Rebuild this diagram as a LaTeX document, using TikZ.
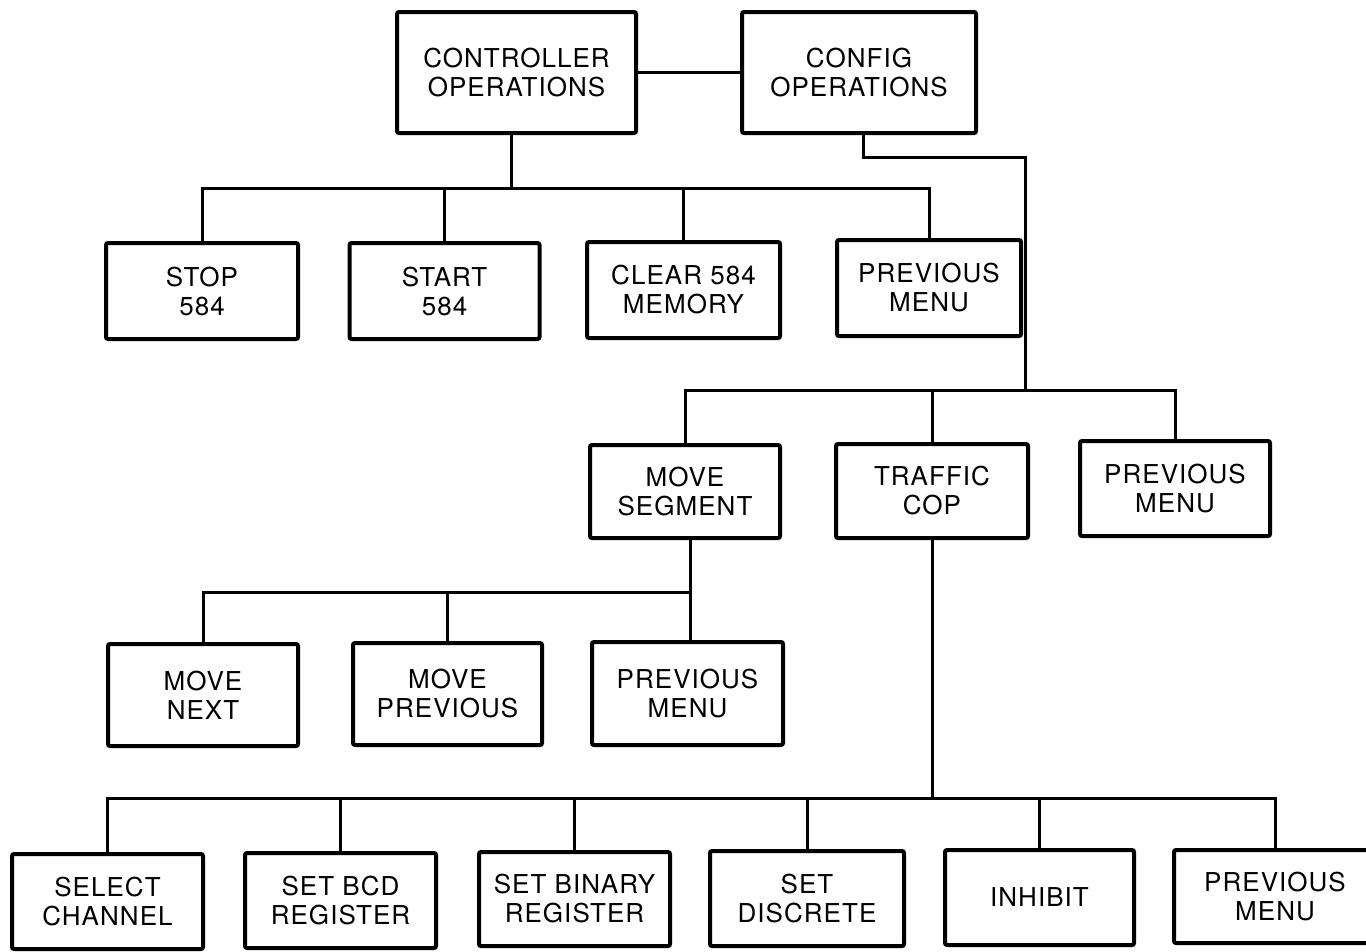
\documentclass[tikz,border=0pt]{standalone}
\usepackage{fontspec}
\setmainfont[LetterSpace=4]{TeX Gyre Heros}

\begin{document}
\begin{tikzpicture}[x=1pt, y=-1pt,
        menu/.style={draw, rectangle, line width=4pt, rounded corners=2pt, align=center, inner sep=0pt, minimum width=191pt, minimum height=95pt, font=\fontsize{26}{29}\selectfont},
        link/.style={line width=3pt}]
        \useasboundingbox (0,0) rectangle (1366,951);
        \clip (0,0) rectangle (1366,951);

        % top level
        \node[menu, minimum width=239pt, minimum height=121pt] (ctrl) at (516.5,72.5) {CONTROLLER\\OPERATIONS};
        \node[menu, minimum width=234pt, minimum height=121pt] (config) at (859,72.5) {CONFIG\\OPERATIONS};

        % controller menu
        \node[menu, minimum width=192pt, minimum height=96pt] (stop) at (202,291) {STOP\\584};
        \node[menu, minimum width=190pt, minimum height=96pt] (start) at (444.5,291) {START\\584};
        \node[menu, minimum width=193pt, minimum height=96pt] (clear) at (683.5,290) {CLEAR 584\\MEMORY};
        \node[menu, minimum width=184pt, minimum height=96pt] (prevA) at (929,288) {PREVIOUS\\MENU};

        % config menu
        \node[menu, minimum width=190pt, minimum height=93pt] (moveseg) at (685,491.5) {MOVE\\SEGMENT};
        \node[menu, minimum width=192pt, minimum height=94pt] (traffic) at (932,491) {TRAFFIC\\COP};
        \node[menu, minimum width=190pt] (prevB) at (1175,488.5) {PREVIOUS\\MENU};

        % move segment menu
        \node[menu, minimum width=190pt, minimum height=102pt] (movenext) at (203,695) {MOVE\\NEXT};
        \node[menu, minimum width=189pt, minimum height=102pt] (moveprev) at (447.5,694) {MOVE\\PREVIOUS};
        \node[menu, minimum height=103pt] (prevC) at (687.5,693.5) {PREVIOUS\\MENU};

        % traffic cop menu
        \node[menu] (select) at (107.5,901.5) {SELECT\\CHANNEL};
        \node[menu] (setbcd) at (340.5,900.5) {SET BCD\\REGISTER};
        \node[menu, minimum height=94pt] (setbin) at (574.5,899) {SET BINARY\\REGISTER};
        \node[menu, minimum width=194pt] (setdisc) at (807,898.5) {SET\\DISCRETE};
        \node[menu, minimum width=189pt] (inhibit) at (1039.5,897.5) {INHIBIT};
        \node[menu, minimum width=202pt, minimum height=93pt] (prevD) at (1275,896.5) {PREVIOUS\\MENU};

        % bus points
        \coordinate (busA) at (511,188);
        \coordinate (bendB) at (863,157);
        \coordinate (busB) at (1025,390);
        \coordinate (busC) at (690,592);
        \coordinate (busD) at (932,798);

        \draw[link] (ctrl) -- (config);

        \draw[link] (ctrl.south -| busA) -- (busA);
        \foreach \n in {stop,start,clear,prevA}
            \draw[link] (busA) -| (\n.north);

        \draw[link] (config.south -| bendB) -- (bendB) -| (busB);
        \foreach \n in {moveseg,traffic,prevB}
            \draw[link] (busB) -| (\n.north);

        \draw[link] (moveseg.south -| busC) -- (prevC.north -| busC);
        \foreach \n in {movenext,moveprev}
            \draw[link] (busC) -| (\n.north);

        \draw[link] (traffic.south -| busD) -- (busD);
        \foreach \n in {select,setbcd,setbin,setdisc,inhibit,prevD}
            \draw[link] (busD) -| (\n.north);
    \end{tikzpicture}
\end{document}
